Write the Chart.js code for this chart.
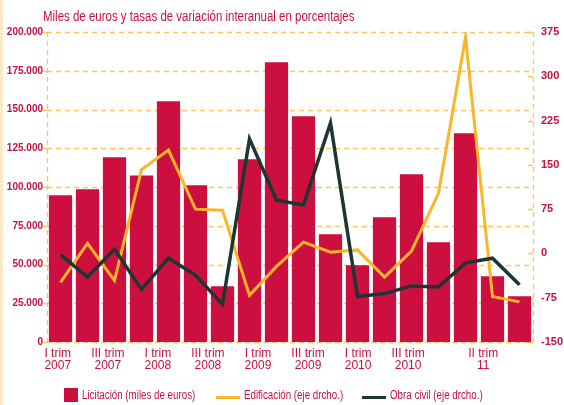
<!DOCTYPE html>
<html>
<head>
<meta charset="utf-8">
<script src="https://cdn.jsdelivr.net/npm/chart.js@4/dist/chart.umd.min.js"></script>
<style>
  body { margin: 0; background: #fff; }
  #wrap { position: relative; width: 564px; height: 405px; background: #fff; overflow: hidden; }
  #strip { position: absolute; left: 0; top: 0; width: 3px; height: 405px; background: #fde9c6; }
  #title { position: absolute; left: 43px; top: 8px; font: 14px "Liberation Sans", Arial, sans-serif; color: #c8103e; white-space: nowrap; transform: scaleX(0.82); transform-origin: left top; }
  #legend { position: absolute; left: 64px; top: 388px; font: 12.5px "Liberation Sans", Arial, sans-serif; color: #c8103e; white-space: nowrap; }
  #legend span { position: absolute; top: 0; transform: scaleX(0.78); transform-origin: left top; }
  .sw { position: absolute; }
</style>
</head>
<body>
<div id="wrap">
  <div id="strip"></div>
  <canvas id="chart"></canvas>
  <div id="title">Miles de euros y tasas de variación interanual en porcentajes</div>
  <div id="legend"></div>
</div>
<script>
const quarters = ['I 2007', 'II 2007', 'III 2007', 'IV 2007', 'I 2008', 'II 2008', 'III 2008', 'IV 2008',
    'I 2009', 'II 2009', 'III 2009', 'IV 2009', 'I 2010', 'II 2010', 'III 2010', 'IV 2010', 'I 2011', 'II 2011'];
const licitacion = [94600, 98500, 119200, 107500, 155300, 101100, 35900, 117900, 180500,
    145600, 69500, 49500, 80500, 108200, 64300, 134600, 42400, 29500];
const edificacion = [-49, 17, -46, 142, 175, 75, 73, -71, -22, 19, 2, 6, -40, 4, 102, 366, -73, -82];
const obraCivil = [-2, -40, 7, -61, -8, -37, -86, 194, 90, 82, 221, -73, -68, -55, -57, -16, -8, -53];

const tickIndex = [0, 2, 4, 6, 8, 10, 12, 14, 17];
const tickLabels = [['I trim', '2007'], ['III trim', '2007'], ['I trim', '2008'], ['III trim', '2008'],
    ['I trim', '2009'], ['III trim', '2009'], ['I trim', '2010'], ['III trim', '2010'], ['II trim', '11']];

const RED = '#cc0f3f';
const TXT = '#c8103e';
const YEL = '#fbb528';
const DARK = '#1c3634';
const GRID = '#fcc65a';
const FONT = '"Liberation Sans", Arial, sans-serif';

const legendItems = [
    { label: 'Licitación (miles de euros)', color: RED, box: true, x: 0 },
    { label: 'Edificación (eje drcho.)', color: YEL, box: false, x: 152 },
    { label: 'Obra civil (eje drcho.)', color: DARK, box: false, x: 298 }
];

const buildLegend = () => {
    const legend = document.getElementById('legend');
    legendItems.forEach(item => {
        const sw = document.createElement('div');
        sw.className = 'sw';
        sw.style.background = item.color;
        if (item.box) {
            sw.style.left = item.x + 'px'; sw.style.top = '0px';
            sw.style.width = '14px'; sw.style.height = '14px';
        } else {
            sw.style.left = item.x + 'px'; sw.style.top = '8px';
            sw.style.width = '24px'; sw.style.height = '3px';
        }
        legend.appendChild(sw);
        const span = document.createElement('span');
        span.textContent = item.label;
        span.style.left = (item.x + (item.box ? 18 : 28)) + 'px';
        legend.appendChild(span);
    });
};

const fmt = v => v.toLocaleString('de-DE');

// dashed grid and frame like the printed chart
const dashFrame = {
    id: 'dashFrame',
    beforeDatasetsDraw: (chart) => {
        const { ctx, chartArea: a, scales } = chart;
        const px = v => Math.round(v) + 0.5;
        ctx.save();
        ctx.strokeStyle = GRID;
        ctx.lineWidth = 1.3;
        ctx.setLineDash([5, 4]);
        ctx.beginPath();
        scales.y.ticks.forEach(t => {
            const y = px(scales.y.getPixelForValue(t.value));
            ctx.moveTo(a.left, y);
            ctx.lineTo(a.right, y);
        });
        ctx.moveTo(px(a.left), a.top);
        ctx.lineTo(px(a.left), a.bottom);
        ctx.moveTo(px(a.right), a.top);
        ctx.lineTo(px(a.right), a.bottom);
        ctx.stroke();
        ctx.setLineDash([]);
        ctx.beginPath();
        scales.y.ticks.forEach(t => {
            const y = px(scales.y.getPixelForValue(t.value));
            ctx.moveTo(a.left - 4, y);
            ctx.lineTo(a.left, y);
        });
        scales.y2.ticks.forEach(t => {
            const y = px(scales.y2.getPixelForValue(t.value));
            ctx.moveTo(a.right - 5, y);
            ctx.lineTo(a.right, y);
        });
        ctx.stroke();
        ctx.restore();
    }
};

const init = () => {
    buildLegend();
    new Chart(document.getElementById('chart'), {
        type: 'bar',
        data: {
            labels: quarters,
            datasets: [
                {
                    type: 'line', label: 'Obra civil (eje drcho.)', data: obraCivil, yAxisID: 'y2',
                    borderColor: DARK, borderWidth: 3.5, pointRadius: 0, tension: 0, order: 1
                },
                {
                    type: 'line', label: 'Edificación (eje drcho.)', data: edificacion, yAxisID: 'y2',
                    borderColor: YEL, borderWidth: 3, pointRadius: 0, tension: 0, order: 2
                },
                {
                    type: 'bar', label: 'Licitación (miles de euros)', data: licitacion, yAxisID: 'y',
                    backgroundColor: RED, barPercentage: 0.86, categoryPercentage: 1, order: 3
                }
            ]
        },
        options: {
            responsive: true,
            maintainAspectRatio: false,
            animation: false,
            layout: { padding: { top: 32, left: 0, right: 0, bottom: 0 } },
            plugins: { legend: { display: false }, tooltip: { enabled: false } },
            scales: {
                x: { display: false, offset: true },
                x2: {
                    type: 'linear', position: 'bottom', min: -0.43, max: 18.99, offset: false,
                    afterBuildTicks: axis => { axis.ticks = tickIndex.map(v => ({ value: v })); },
                    afterFit: axis => { axis.height = 63; },
                    grid: { display: false, drawTicks: false },
                    border: { display: false },
                    ticks: {
                        autoSkip: false, maxRotation: 0, padding: 6, color: TXT,
                        font: { family: FONT, size: 12, lineHeight: 1.0 },
                        callback: v => tickLabels[tickIndex.indexOf(v)]
                    }
                },
                y: {
                    position: 'left', min: 0, max: 200000,
                    afterFit: axis => { axis.width = 47; },
                    grid: { display: false, drawTicks: false },
                    border: { display: false },
                    ticks: {
                        stepSize: 25000, padding: 4, color: TXT,
                        font: { family: FONT, size: 10, weight: 'bold' },
                        callback: v => fmt(v)
                    }
                },
                y2: {
                    position: 'right', min: -150, max: 375,
                    afterFit: axis => { axis.width = 31; },
                    grid: { display: false, drawTicks: false },
                    border: { display: false },
                    ticks: {
                        stepSize: 75, padding: 8, color: TXT,
                        font: { family: FONT, size: 11, weight: 'bold' }
                    }
                }
            }
        },
        plugins: [dashFrame]
    });
};

document.addEventListener('DOMContentLoaded', init);
</script>
</body>
</html>
